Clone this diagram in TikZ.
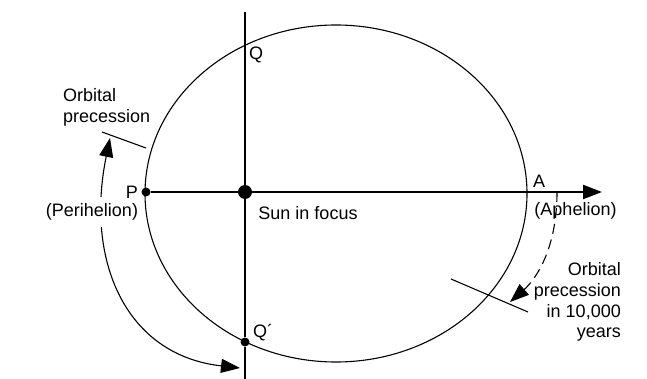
\documentclass[tikz,border=0pt]{standalone}
\usepackage{fontspec}
\setmainfont{Liberation Sans}
\usepackage{tikz}
\usetikzlibrary{arrows.meta,positioning,calc}

\tikzset{
  lbl/.style={inner sep=0pt},
  axisline/.style={line width=2.2pt},
  thinline/.style={line width=1.1pt},
  bigtip/.tip={Triangle[length=19pt,width=14pt]},
  spot/.style={circle, fill, inner sep=0pt, minimum size=#1},
}

\begin{document}
\begin{tikzpicture}[x=1pt, y=-1pt, font=\fontsize{18}{20.7}\selectfont]
            \useasboundingbox (0,0) rectangle (647,379);
            % orbit
            \draw[thinline] (336,193.5) ellipse [x radius=191, y radius=168.5];
            % axes
            \coordinate (top) at (245,12);
            \coordinate (bottom) at (245,379);
            \coordinate (axisend) at (602,192);
            \node[spot=9pt] (P) at (146,192) {};
            \node[spot=14pt] (sun) at (245,192) {};
            \node[spot=9pt] (Qb) at (245,342) {};
            \draw[axisline, -bigtip] (P) -- (axisend);
            \draw[axisline] (top) -- (sun) -- (Qb);
            \draw[thinline] (Qb) -- (bottom);
            % precession markers
            \coordinate (ldrA) at (102,132);
            \coordinate (ldrB) at (146,148);
            \draw[thinline] (ldrA) -- (ldrB);
            \coordinate (rotA) at (451,279);
            \coordinate (rotB) at (528,312);
            \coordinate (rottip) at (510,302);
            \draw[thinline] (rotA) -- (rotB);
            \coordinate (aptick) at (557,192);
            \draw[thinline, dash pattern=on 10pt off 6pt, -bigtip]
                (aptick) .. controls (557,250) and (535,280) .. (rottip);
            \coordinate (arcTop) at (110,138);
            \coordinate (arcBot) at (240,368);
            \draw[thinline, bigtip-bigtip]
                (arcTop) .. controls (85,260) and (125,355) .. (arcBot);
            % labels
            \node[lbl, fill=white, inner ysep=7pt] (peri) at (92,212) {(Perihelion)};
            \node[lbl] (Plbl) at (132,192) {P};
            \node[lbl] (Albl) at (539,181) {A};
            \node[lbl] (aph) at (575.5,211) {(Aphelion)};
            \node[lbl] (Qlbl) at (256,55) {Q};
            \node[lbl] (Qblbl) at (263,333) {Q´};
            \node[lbl] (sunlbl) at (308,213.5) {Sun in focus};
            \node[lbl, align=left, anchor=west] (prec) at (63,107) {Orbital\\precession};
            \node[lbl, align=right, anchor=east] (prec10k) at (621,302) {Orbital\\precession\\in 10,000\\years};
        \end{tikzpicture}
\end{document}
